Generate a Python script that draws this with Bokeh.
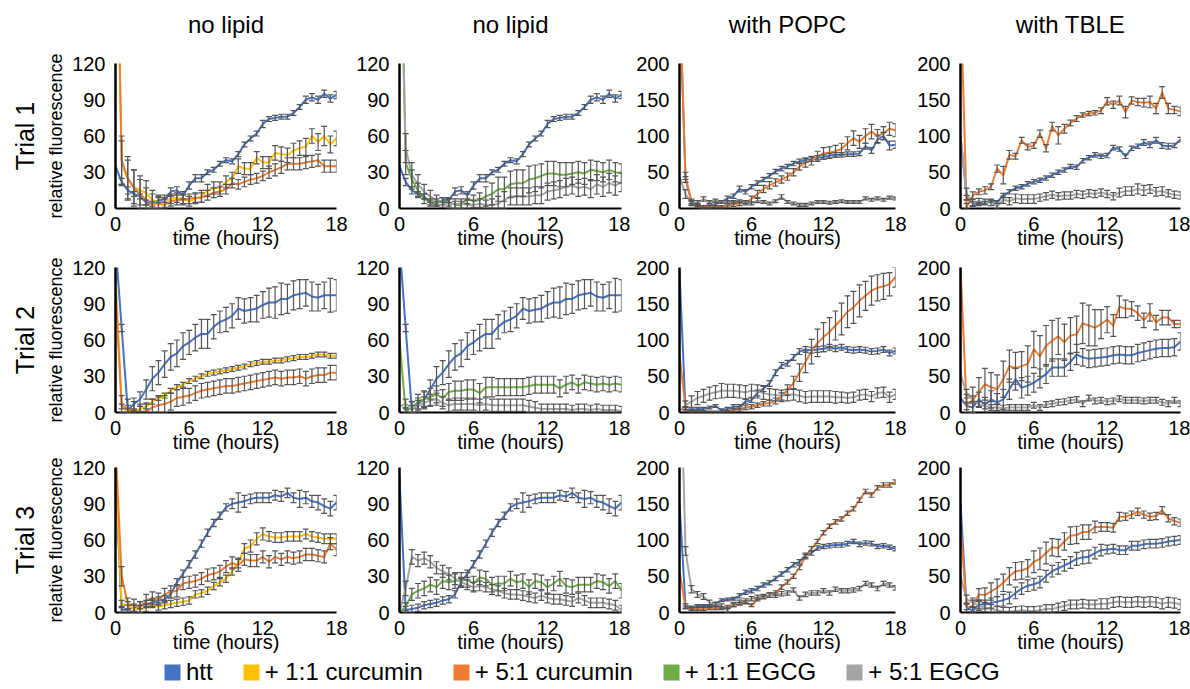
from bokeh.plotting import figure
from bokeh.models import (Range1d, ColumnDataSource, Whisker, TeeHead, Title,
                          Legend, LegendItem, LinearAxis, FixedTicker)
from bokeh.layouts import gridplot, column
from bokeh.embed import file_html
from bokeh.resources import INLINE

# ---------------------------------------------------------------- data
TIME_H = [0, 0.5, 1, 1.5, 2, 2.5, 3, 3.5, 4, 4.5, 5, 5.5, 6, 6.5, 7, 7.5, 8, 8.5,
          9, 9.5, 10, 10.5, 11, 11.5, 12, 12.5, 13, 13.5, 14, 14.5, 15, 15.5,
          16, 16.5, 17, 17.5, 18]

# Trial 1
T1_HTT = [35, 22, 15, 12, 10, 5, 4, 7, 7, 14, 15, 11, 19, 25, 25, 30, 32, 37, 40, 39,
          45, 53, 58, 62, 70, 74, 75, 76, 76, 79, 84, 90, 92, 90, 95, 91, 94]
T1_HTT_ERR = [0, 3, 3, 2, 2, 2, 2, 2, 2, 3, 3, 3, 3, 3, 3, 2, 2, 2, 2, 2,
              2, 2, 2, 2, 3, 2, 2, 2, 2, 2, 2, 3, 3, 3, 3, 3, 3]
T1_CUR11 = [300, 38, 24, 18, 15, 13, 7, 5, 6, 8, 9, 8, 6, 8, 10, 15, 17, 17, 22, 25,
            35, 33, 33, 42, 38, 38, 46, 45, 44, 48, 50, 51, 60, 55, 60, 53, 58]
T1_CUR11_ERR = [0, 18, 16, 14, 12, 10, 8, 6, 5, 4, 4, 4, 4, 4, 5, 5, 5, 5, 5, 5,
                6, 5, 5, 5, 5, 5, 6, 6, 6, 6, 6, 7, 6, 7, 8, 7, 6]
T1_CUR51 = [300, 40, 25, 17, 12, 7, 4, 4, 3, 6, 7, 7, 8, 9, 9, 11, 13, 14, 16, 21,
            20, 22, 24, 25, 27, 30, 32, 34, 37, 37, 37, 38, 39, 40, 35, 35, 35]
T1_CUR51_ERR = [0, 20, 18, 15, 12, 10, 8, 6, 5, 4, 4, 4, 4, 4, 4, 4, 4, 4, 4, 4,
                4, 4, 4, 4, 4, 5, 5, 5, 5, 5, 5, 5, 5, 5, 5, 5, 5]
T1_EGCG11 = [300, 38, 24, 15, 8, 5, 5, 6, 5, 3, 3, 8, 6, 7, 10, 12, 16, 16, 20, 21,
             21, 24, 25, 27, 29, 29, 28, 28, 29, 30, 29, 32, 31, 30, 32, 30, 29]
T1_EGCG11_ERR = [0, 10, 8, 6, 4, 3, 3, 3, 3, 3, 3, 4, 5, 6, 8, 9, 10, 10, 11, 11,
                 11, 11, 11, 10, 10, 10, 10, 10, 9, 9, 9, 8, 8, 8, 8, 8, 8]
T1_EGCG51 = [250, 50, 28, 20, 14, 10, 7, 5, 4, 4, 4, 3, 3, 4, 3, 3, 4, 7, 10, 10,
             10, 10, 11, 11, 14, 15, 16, 18, 19, 17, 18, 16, 20, 18, 21, 19, 22]
T1_EGCG51_ERR = [0, 12, 10, 8, 6, 5, 4, 4, 4, 4, 4, 4, 4, 4, 4, 5, 6, 7, 7, 7,
                 7, 7, 7, 7, 7, 7, 7, 7, 7, 7, 7, 7, 8, 8, 8, 8, 8]
T1_POPC_HTT = [300, 40, 10, 5, 2, 3, 6, 9, 14, 17, 27, 23, 30, 35, 40, 45, 51, 55, 58, 62,
               65, 67, 68, 70, 71, 73, 74, 74, 75, 75, 76, 86, 80, 95, 100, 87, 88]
T1_POPC_HTT_ERR = [0, 4, 3, 2, 2, 2, 2, 2, 3, 3, 4, 3, 3, 3, 3, 3, 3, 3, 3, 3,
                   3, 3, 3, 3, 3, 3, 3, 3, 3, 3, 3, 4, 4, 5, 5, 6, 5]
T1_POPC_CUR51 = [300, 45, 8, 3, 2, 2, 2, 2, 3, 6, 7, 8, 13, 20, 27, 32, 36, 40, 44, 50,
                 58, 63, 66, 72, 76, 77, 79, 82, 90, 97, 92, 100, 106, 100, 104, 110, 108]
T1_POPC_CUR51_ERR = [0, 5, 3, 2, 2, 2, 2, 2, 2, 3, 3, 3, 4, 5, 5, 5, 5, 5, 5, 5,
                     5, 6, 6, 7, 8, 8, 8, 8, 9, 10, 9, 10, 10, 9, 9, 9, 9]
T1_POPC_EGCG51 = [44, 20, 7, 8, 13, 9, 11, 9, 9, 9, 10, 9, 7, 11, 9, 7, 10, 16, 9, 7,
                  5, 5, 7, 9, 9, 8, 9, 10, 9, 9, 9, 14, 12, 14, 12, 15, 14]
T1_POPC_EGCG51_ERR = [0, 6, 3, 3, 3, 2, 2, 2, 2, 2, 2, 2, 2, 3, 2, 2, 2, 3, 2, 2,
                      2, 2, 2, 2, 2, 2, 2, 2, 2, 2, 2, 2, 2, 2, 2, 2, 2]
T1_TBLE_HTT = [100, 15, 7, 6, 8, 11, 9, 18, 23, 28, 30, 34, 37, 39, 42, 46, 50, 53, 58, 57,
               66, 70, 74, 72, 73, 84, 82, 72, 83, 86, 91, 88, 94, 87, 86, 87, 95]
T1_TBLE_HTT_ERR = [0, 3, 3, 2, 2, 2, 2, 3, 3, 3, 3, 3, 3, 3, 3, 3, 3, 3, 3, 3,
                   3, 3, 3, 3, 3, 3, 3, 3, 3, 3, 4, 4, 4, 4, 4, 3, 3]
T1_TBLE_CUR51 = [300, 2, 18, 23, 25, 30, 55, 46, 74, 72, 94, 85, 87, 103, 83, 113, 101, 110,
                 118, 124, 129, 131, 132, 135, 148, 143, 149, 133, 149, 147, 146, 147, 138,
                 160, 138, 136, 134]
T1_TBLE_CUR51_ERR = [0, 5, 5, 4, 5, 4, 5, 12, 6, 4, 4, 4, 4, 5, 5, 6, 12, 6, 4, 4,
                     3, 3, 3, 4, 5, 5, 6, 8, 5, 5, 6, 8, 7, 8, 7, 5, 6]
T1_TBLE_EGCG51 = [100, 20, 8, 10, 9, 8, 3, 12, 10, 14, 13, 13, 13, 15, 17, 19, 17, 18, 18, 20,
                  19, 21, 20, 22, 20, 17, 22, 24, 24, 27, 25, 27, 23, 24, 21, 19, 18]
T1_TBLE_EGCG51_ERR = [0, 8, 5, 4, 4, 4, 4, 5, 5, 6, 6, 6, 6, 5, 5, 5, 5, 5, 5, 5,
                      5, 5, 5, 5, 5, 5, 6, 6, 6, 7, 7, 6, 6, 6, 5, 5, 5]

# Trial 2
T2_HTT = [140, 70, 2, 7, 11, 19, 28, 33, 40, 46, 49, 55, 58, 62, 65, 65, 71, 75, 77, 80,
          86, 84, 85, 86, 89, 91, 91, 94, 94, 97, 98, 99, 96, 95, 97, 97, 97]
T2_HTT_ERR = [0, 3, 4, 5, 6, 8, 10, 10, 11, 11, 11, 11, 10, 11, 12, 12, 10, 9, 10, 10,
              9, 10, 10, 11, 11, 12, 13, 13, 12, 12, 12, 11, 12, 11, 11, 14, 13]
T2_CUR11 = [115, 5, 1, 1, 3, 5, 9, 12, 14, 18, 21, 23, 26, 28, 30, 32, 33, 34, 35, 36,
            37, 38, 40, 41, 42, 42, 43, 43, 44, 45, 46, 46, 47, 48, 48, 47, 47]
T2_CUR11_ERR = [0, 2, 2, 2, 2, 2, 2, 2, 2, 2, 2, 2, 2, 2, 2, 2, 2, 2, 2, 2,
                2, 2, 2, 2, 2, 2, 2, 2, 2, 2, 2, 2, 2, 2, 2, 2, 2]
T2_CUR51 = [100, 6, 3, 1, 0, 1, 4, 6, 7, 9, 12, 13, 14, 16, 18, 19, 20, 21, 22, 22,
            23, 24, 25, 26, 27, 28, 29, 28, 29, 29, 30, 28, 30, 31, 31, 33, 33]
T2_CUR51_ERR = [0, 8, 8, 8, 7, 7, 7, 7, 7, 7, 7, 7, 6, 6, 6, 6, 6, 6, 6, 6,
                6, 6, 6, 6, 6, 6, 6, 6, 6, 6, 6, 6, 6, 6, 6, 6, 6]
T2_EGCG11 = [60, 1, 4, 9, 11, 13, 15, 12, 17, 18, 18, 19, 19, 16, 21, 21, 21, 21, 21, 21,
             21, 22, 23, 23, 23, 23, 20, 23, 25, 22, 25, 24, 23, 24, 23, 24, 23]
T2_EGCG11_ERR = [0, 3, 5, 6, 7, 7, 7, 7, 7, 8, 8, 8, 8, 8, 8, 8, 7, 7, 7, 7,
                 7, 7, 7, 7, 7, 7, 7, 7, 6, 6, 6, 6, 6, 6, 6, 6, 6]
T2_EGCG51 = [5, 7, 4, 5, 8, 10, 11, 8, 6, 7, 7, 7, 7, 6, 7, 6, 6, 6, 6, 6,
             6, 5, 4, 3, 3, 3, 3, 3, 2, 3, 3, 2, 3, 2, 2, 2, 1]
T2_EGCG51_ERR = [0, 4, 5, 5, 5, 5, 5, 5, 5, 5, 5, 5, 5, 5, 5, 5, 5, 5, 5, 5,
                 5, 5, 5, 4, 4, 4, 4, 4, 4, 4, 4, 4, 4, 4, 4, 4, 4]
T2_POPC_HTT = [195, 4, 3, 5, 5, 7, 9, 3, 5, 8, 8, 15, 17, 27, 33, 40, 55, 65, 68, 76,
               84, 87, 86, 87, 88, 90, 88, 90, 87, 86, 87, 86, 84, 85, 87, 82, 85]
T2_POPC_HTT_ERR = [0, 3, 2, 2, 2, 2, 2, 2, 2, 3, 3, 3, 3, 4, 4, 4, 4, 4, 4, 4,
                   4, 4, 4, 4, 4, 4, 4, 4, 4, 4, 4, 4, 4, 4, 4, 4, 4]
T2_POPC_CUR51 = [80, 5, 1, 0, 0, 0, 0, 0, 1, 3, 5, 7, 8, 10, 12, 13, 16, 22, 31, 41,
                 55, 70, 84, 96, 104, 111, 120, 129, 139, 145, 154, 161, 168, 172, 174,
                 177, 187]
T2_POPC_CUR51_ERR = [0, 3, 2, 2, 2, 2, 2, 2, 2, 2, 3, 3, 3, 3, 3, 4, 4, 5, 7, 9,
                     12, 15, 17, 19, 20, 20, 20, 22, 22, 22, 22, 20, 20, 18, 18, 16, 14]
T2_POPC_EGCG51 = [2, 10, 15, 20, 23, 26, 28, 30, 30, 30, 29, 28, 30, 29, 27, 25, 24, 23,
                  24, 25, 23, 21, 22, 22, 22, 22, 21, 21, 20, 21, 24, 25, 22, 27, 28, 21, 25]
T2_POPC_EGCG51_ERR = [0, 6, 8, 9, 9, 9, 9, 10, 9, 9, 9, 9, 9, 9, 9, 8, 8, 8, 8, 8,
                      8, 8, 8, 8, 8, 8, 8, 7, 7, 7, 7, 7, 7, 7, 7, 7, 7]
T2_TBLE_HTT = [20, 9, 7, 18, 11, 18, 14, 18, 32, 46, 34, 37, 41, 47, 53, 62, 62, 62, 70, 80,
               76, 74, 75, 76, 77, 79, 80, 79, 79, 82, 84, 86, 88, 89, 89, 90, 98]
T2_TBLE_HTT_ERR = [0, 5, 8, 10, 10, 12, 12, 14, 14, 15, 14, 13, 13, 13, 13, 12, 12, 12,
                   12, 14, 12, 12, 12, 12, 12, 12, 12, 12, 12, 12, 12, 12, 12, 12, 12, 12, 12]
T2_TBLE_CUR51 = [200, 10, 17, 28, 39, 35, 32, 46, 64, 61, 64, 67, 87, 78, 92, 99, 105, 97,
                 106, 108, 123, 120, 117, 122, 128, 120, 146, 143, 143, 137, 127, 138, 124,
                 131, 131, 122, 122]
T2_TBLE_CUR51_ERR = [0, 15, 18, 20, 22, 20, 20, 25, 22, 22, 20, 25, 25, 28, 28, 28, 25, 25,
                     25, 25, 28, 28, 25, 20, 18, 15, 15, 12, 10, 10, 10, 12, 10, 10, 10, 5, 5]
T2_TBLE_EGCG51 = [53, 26, 18, 11, 9, 7, 7, 6, 7, 7, 7, 7, 10, 7, 11, 12, 14, 15, 17, 18,
                  12, 20, 16, 17, 15, 16, 19, 17, 17, 17, 16, 17, 17, 14, 12, 17, 12]
T2_TBLE_EGCG51_ERR = [0, 6, 5, 4, 4, 4, 4, 4, 4, 4, 4, 4, 4, 4, 4, 4, 4, 4, 4, 4,
                      4, 4, 4, 4, 4, 4, 4, 4, 4, 4, 4, 4, 4, 4, 4, 4, 4]

# Trial 3
T3_HTT = [112, 2, 3, 4, 6, 7, 8, 10, 11, 15, 25, 32, 40, 48, 57, 66, 74, 80, 87, 90,
          91, 92, 94, 95, 95, 95, 97, 96, 99, 95, 94, 95, 92, 91, 88, 86, 91]
T3_HTT_ERR = [0, 3, 3, 3, 3, 3, 3, 3, 3, 3, 3, 3, 3, 3, 3, 3, 3, 3, 3, 4,
              8, 5, 4, 4, 4, 4, 4, 4, 4, 4, 7, 5, 5, 6, 6, 6, 6]
T3_CUR11 = [120, 7, 6, 3, 3, 4, 7, 5, 6, 7, 8, 9, 10, 15, 16, 18, 22, 25, 28, 34,
            41, 53, 55, 61, 65, 63, 62, 62, 63, 63, 63, 65, 63, 62, 61, 61, 61]
T3_CUR11_ERR = [0, 3, 3, 3, 3, 3, 3, 3, 3, 3, 3, 3, 3, 3, 3, 3, 3, 3, 3, 3,
                4, 4, 5, 5, 5, 4, 4, 4, 4, 4, 4, 4, 4, 4, 4, 4, 4]
T3_CUR51 = [140, 30, 7, 6, 4, 10, 12, 11, 15, 17, 18, 24, 25, 26, 28, 31, 32, 34, 38, 41,
            39, 44, 43, 43, 46, 42, 46, 44, 46, 45, 46, 48, 48, 47, 46, 57, 52]
T3_CUR51_ERR = [0, 8, 5, 5, 5, 5, 5, 5, 5, 5, 5, 5, 5, 5, 5, 5, 5, 5, 5, 5,
                5, 5, 5, 5, 5, 5, 5, 5, 5, 5, 5, 5, 5, 5, 5, 5, 5]
T3_EGCG11 = [0, 5, 15, 18, 20, 23, 21, 26, 25, 26, 27, 27, 24, 29, 28, 23, 24, 24, 28, 25,
             26, 21, 26, 25, 21, 24, 28, 22, 21, 23, 23, 23, 26, 25, 22, 26, 18]
T3_EGCG11_ERR = [0, 3, 5, 6, 6, 6, 6, 6, 6, 6, 6, 6, 6, 6, 6, 6, 6, 6, 6, 6,
                 6, 6, 6, 6, 6, 6, 6, 6, 6, 6, 6, 6, 6, 6, 6, 6, 6]
T3_EGCG51 = [0, 20, 46, 43, 45, 42, 37, 34, 32, 28, 25, 23, 21, 22, 21, 19, 18, 16, 15, 15,
             14, 13, 12, 14, 12, 11, 11, 10, 9, 12, 10, 8, 8, 8, 7, 6, 2]
T3_EGCG51_ERR = [0, 6, 6, 5, 5, 5, 5, 5, 5, 5, 4, 4, 4, 4, 4, 4, 4, 4, 4, 4,
                 4, 4, 4, 4, 4, 4, 4, 4, 4, 4, 4, 4, 4, 4, 4, 4, 4]
T3_POPC_HTT = [150, 9, 7, 9, 9, 9, 12, 17, 18, 19, 23, 28, 30, 33, 38, 41, 47, 53, 59, 66,
               70, 79, 82, 89, 91, 92, 93, 93, 95, 98, 94, 96, 95, 91, 92, 90, 88]
T3_POPC_HTT_ERR = [0, 3, 2, 2, 2, 2, 2, 2, 2, 2, 3, 3, 3, 3, 3, 3, 3, 3, 3, 3,
                   3, 3, 3, 3, 3, 3, 3, 3, 3, 3, 3, 3, 3, 3, 3, 3, 3]
T3_POPC_CUR51 = [57, 7, 5, 5, 5, 6, 6, 6, 8, 10, 12, 14, 10, 18, 21, 24, 27, 35, 42, 50,
                 62, 77, 88, 98, 110, 119, 125, 129, 137, 143, 155, 167, 162, 172, 176,
                 176, 180]
T3_POPC_CUR51_ERR = [0, 2, 2, 2, 2, 2, 2, 2, 2, 2, 2, 2, 2, 2, 2, 3, 3, 3, 3, 3,
                     3, 3, 3, 3, 3, 3, 3, 3, 3, 3, 3, 3, 3, 3, 3, 3, 3]
T3_POPC_EGCG51 = [400, 85, 32, 25, 22, 14, 11, 9, 3, 11, 14, 16, 19, 21, 22, 24, 24, 26,
                  27, 31, 20, 25, 27, 27, 30, 27, 32, 30, 30, 31, 33, 40, 38, 33, 40, 38, 34]
T3_POPC_EGCG51_ERR = [0, 6, 5, 4, 4, 3, 3, 3, 3, 3, 3, 3, 3, 3, 3, 3, 3, 3, 3, 3,
                      3, 3, 3, 3, 3, 3, 3, 3, 3, 3, 3, 3, 3, 3, 3, 3, 3]
T3_TBLE_HTT = [150, 8, 2, 11, 11, 13, 15, 17, 20, 27, 33, 37, 39, 42, 50, 57, 61, 65, 69, 74,
               76, 77, 82, 86, 87, 88, 86, 86, 92, 92, 94, 95, 95, 96, 98, 99, 100]
T3_TBLE_HTT_ERR = [0, 4, 5, 6, 6, 7, 7, 8, 8, 8, 8, 8, 8, 8, 8, 8, 8, 8, 8, 9,
                   9, 9, 8, 8, 6, 6, 6, 6, 6, 6, 6, 6, 6, 6, 6, 6, 6]
T3_TBLE_CUR51 = [120, 7, 9, 25, 24, 29, 34, 41, 50, 57, 58, 61, 70, 74, 82, 90, 89, 98, 106,
                 107, 111, 111, 118, 118, 118, 117, 132, 132, 135, 139, 135, 132, 133, 141,
                 130, 126, 124]
T3_TBLE_CUR51_ERR = [0, 6, 8, 8, 10, 12, 12, 12, 12, 12, 12, 12, 15, 15, 15, 12, 12, 12, 12,
                     12, 10, 10, 8, 6, 6, 6, 6, 5, 5, 5, 5, 5, 5, 5, 5, 5, 5]
T3_TBLE_EGCG51 = [50, 18, 14, 9, 7, 5, 3, 1, 1, 2, 3, 2, 2, 3, 5, 5, 7, 9, 11, 11,
                  12, 11, 11, 12, 12, 14, 15, 14, 14, 15, 14, 15, 14, 12, 14, 13, 11]
T3_TBLE_EGCG51_ERR = [0, 6, 6, 6, 6, 6, 6, 6, 6, 6, 6, 6, 6, 6, 6, 6, 6, 6, 6, 6,
                      6, 6, 6, 7, 7, 7, 7, 7, 7, 7, 7, 7, 7, 7, 7, 7, 7]

COL_TITLES = ["no lipid", "no lipid", "with POPC", "with TBLE"]
ROW_TITLES = ["Trial 1", "Trial 2", "Trial 3"]
Y_MAX = [120, 120, 200, 200]
Y_TICKS = {120: [0, 30, 60, 90, 120], 200: [0, 50, 100, 150, 200]}
X_TICKS = [0, 6, 12, 18]

SERIES_ORDER = ["htt", "cur11", "cur51", "egcg11", "egcg51"]
SERIES_LABELS = {"htt": "htt", "cur11": "+ 1:1 curcumin", "cur51": "+ 5:1 curcumin",
                 "egcg11": "+ 1:1 EGCG", "egcg51": "+ 5:1 EGCG"}
COLORS = {"htt": "#4472C4", "cur11": "#FFC000", "cur51": "#ED7D31",
          "egcg11": "#70AD47", "egcg51": "#A5A5A5"}

# panel grid: rows = trials, columns = conditions
PANELS = [
    [
        [("htt", T1_HTT, T1_HTT_ERR), ("cur11", T1_CUR11, T1_CUR11_ERR),
         ("cur51", T1_CUR51, T1_CUR51_ERR)],
        [("htt", T1_HTT, T1_HTT_ERR), ("egcg11", T1_EGCG11, T1_EGCG11_ERR),
         ("egcg51", T1_EGCG51, T1_EGCG51_ERR)],
        [("htt", T1_POPC_HTT, T1_POPC_HTT_ERR), ("cur51", T1_POPC_CUR51, T1_POPC_CUR51_ERR),
         ("egcg51", T1_POPC_EGCG51, T1_POPC_EGCG51_ERR)],
        [("htt", T1_TBLE_HTT, T1_TBLE_HTT_ERR), ("cur51", T1_TBLE_CUR51, T1_TBLE_CUR51_ERR),
         ("egcg51", T1_TBLE_EGCG51, T1_TBLE_EGCG51_ERR)],
    ],
    [
        [("htt", T2_HTT, T2_HTT_ERR), ("cur11", T2_CUR11, T2_CUR11_ERR),
         ("cur51", T2_CUR51, T2_CUR51_ERR)],
        [("htt", T2_HTT, T2_HTT_ERR), ("egcg11", T2_EGCG11, T2_EGCG11_ERR),
         ("egcg51", T2_EGCG51, T2_EGCG51_ERR)],
        [("htt", T2_POPC_HTT, T2_POPC_HTT_ERR), ("cur51", T2_POPC_CUR51, T2_POPC_CUR51_ERR),
         ("egcg51", T2_POPC_EGCG51, T2_POPC_EGCG51_ERR)],
        [("htt", T2_TBLE_HTT, T2_TBLE_HTT_ERR), ("cur51", T2_TBLE_CUR51, T2_TBLE_CUR51_ERR),
         ("egcg51", T2_TBLE_EGCG51, T2_TBLE_EGCG51_ERR)],
    ],
    [
        [("htt", T3_HTT, T3_HTT_ERR), ("cur11", T3_CUR11, T3_CUR11_ERR),
         ("cur51", T3_CUR51, T3_CUR51_ERR)],
        [("htt", T3_HTT, T3_HTT_ERR), ("egcg11", T3_EGCG11, T3_EGCG11_ERR),
         ("egcg51", T3_EGCG51, T3_EGCG51_ERR)],
        [("htt", T3_POPC_HTT, T3_POPC_HTT_ERR), ("cur51", T3_POPC_CUR51, T3_POPC_CUR51_ERR),
         ("egcg51", T3_POPC_EGCG51, T3_POPC_EGCG51_ERR)],
        [("htt", T3_TBLE_HTT, T3_TBLE_HTT_ERR), ("cur51", T3_TBLE_CUR51, T3_TBLE_CUR51_ERR),
         ("egcg51", T3_TBLE_EGCG51, T3_TBLE_EGCG51_ERR)],
    ],
]

# ---------------------------------------------------------------- layout / style
FONT = "Liberation Sans"
ERR_COLOR = "#555555"
FRAME_W = [221, 222, 216, 220]
FRAME_H = 145
BORDER_L = [115, 50, 49, 50]
BORDER_R = [13, 9, 15, 10]
BORDER_T = [63, 15, 11]
BORDER_B = 44


def make_panel(r, c):
    ymax = Y_MAX[c]
    p = figure(frame_width=FRAME_W[c], frame_height=FRAME_H,
               x_range=Range1d(0, 18), y_range=Range1d(0, ymax),
               output_backend="svg", toolbar_location=None,
               min_border_left=BORDER_L[c], min_border_right=BORDER_R[c],
               min_border_top=BORDER_T[r], min_border_bottom=BORDER_B,
               outline_line_color=None, background_fill_color="white",
               border_fill_color="white")
    p.grid.visible = False

    for ax in (p.xaxis[0], p.yaxis[0]):
        ax.axis_line_color = "black"
        ax.major_tick_line_color = None
        ax.minor_tick_line_color = None
        ax.major_label_text_font = FONT
        ax.major_label_text_font_size = "20px"
        ax.major_label_text_color = "black"
        ax.axis_label_text_font = FONT
        ax.axis_label_text_font_style = "normal"
        ax.axis_label_text_color = "black"

    p.xaxis.ticker = X_TICKS
    p.xaxis.axis_line_width = 2
    p.xaxis.major_label_standoff = 2
    p.xaxis.axis_label = "time (hours)"
    p.xaxis.axis_label_text_font_size = "20px"
    p.xaxis.axis_label_standoff = -7

    p.yaxis.ticker = Y_TICKS[ymax]
    p.yaxis.axis_line_width = 2.5
    p.yaxis.major_label_standoff = 4

    if c == 0:
        p.yaxis.axis_label = "relative fluorescence"
        p.yaxis.axis_label_text_font_size = "18px"
        p.yaxis.axis_label_standoff = 3
        p.add_layout(Title(text=ROW_TITLES[r], align="center", text_font=FONT,
                           text_font_size="25px", text_font_style="normal",
                           text_color="black"), "left")

    if r == 0:
        # column heading carried by a bare axis above the frame
        head = LinearAxis(ticker=FixedTicker(ticks=[]), axis_label=COL_TITLES[c],
                          axis_line_color=None, major_tick_line_color=None,
                          minor_tick_line_color=None, major_tick_out=0,
                          major_label_standoff=0, major_label_text_font_size="0px",
                          axis_label_standoff=26, axis_label_text_font=FONT,
                          axis_label_text_font_size="24px",
                          axis_label_text_font_style="normal",
                          axis_label_text_color="black")
        p.add_layout(head, "above")

    for key, values, errors in PANELS[r][c]:
        color = COLORS[key]
        p.line(TIME_H, values, line_color=color, line_width=2, line_join="round")
        keep = [i for i, v in enumerate(values) if errors[i] > 0 and v <= ymax]
        src = ColumnDataSource(dict(
            t=[TIME_H[i] for i in keep],
            lo=[max(values[i] - errors[i], 0) for i in keep],
            hi=[min(values[i] + errors[i], ymax) for i in keep],
        ))
        p.add_layout(Whisker(source=src, base="t", lower="lo", upper="hi",
                             line_color=ERR_COLOR, line_width=1.2, level="annotation",
                             upper_head=TeeHead(size=6, line_color=ERR_COLOR, line_width=1.2),
                             lower_head=TeeHead(size=6, line_color=ERR_COLOR, line_width=1.2)))
    return p


grid_rows = [[make_panel(r, c) for c in range(4)] for r in range(3)]
grid = gridplot(grid_rows, toolbar_location=None)

# shared legend strip; the swatch renderers sit outside the visible range
leg = figure(width=1190, height=33, x_range=Range1d(0, 1), y_range=Range1d(0, 1),
             output_backend="svg", toolbar_location=None, x_axis_type=None,
             y_axis_type=None, min_border=0, outline_line_color=None)
leg.grid.visible = False
items = []
for key in SERIES_ORDER:
    rr = leg.quad(left=[-3], right=[-2], top=[-2], bottom=[-3], fill_color=COLORS[key],
                  line_color=None)
    items.append(LegendItem(label=SERIES_LABELS[key], renderers=[rr]))
legend = Legend(items=items, orientation="horizontal", location=(162, 3),
                glyph_width=20, glyph_height=20, label_text_font=FONT,
                label_text_font_size="24px", label_text_color="black",
                label_standoff=4, spacing=28, padding=0, margin=0,
                border_line_color=None, background_fill_alpha=0)
leg.add_layout(legend, "center")

page = column(grid, leg)
open("out.html", "w").write(file_html(page, INLINE))
